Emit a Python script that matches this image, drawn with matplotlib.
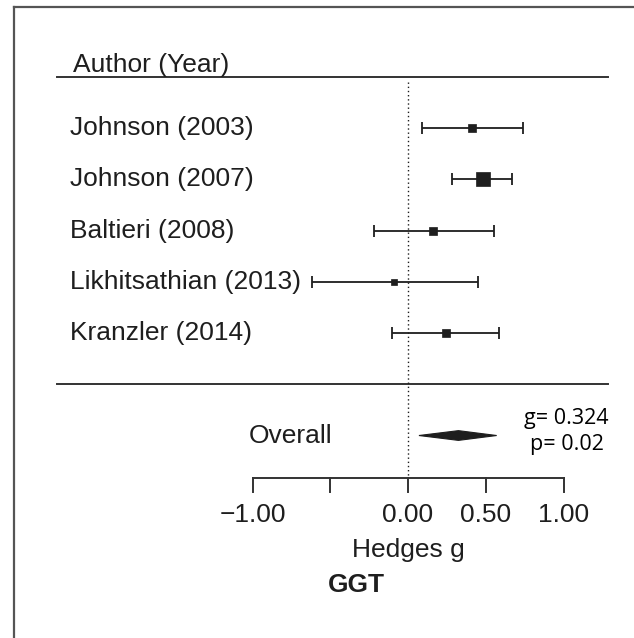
import matplotlib
matplotlib.use("Agg")
import matplotlib.pyplot as plt
import numpy as np
from matplotlib.patches import Polygon
from matplotlib.lines import Line2D

# study data (Hedges g with 95% CI)
studies = ["Johnson (2003)", "Johnson (2007)", "Baltieri (2008)",
           "Likhitsathian (2013)", "Kranzler (2014)"]
g_values = [0.41, 0.48, 0.16, -0.09, 0.245]
ci_low = [0.09, 0.28, -0.22, -0.62, -0.10]
ci_high = [0.74, 0.67, 0.55, 0.45, 0.585]
weights = [18, 44, 18, 6, 14]

overall_g = 0.324
overall_low = 0.07
overall_high = 0.57
overall_p = 0.02

tick_values = [-1.0, -0.5, 0.0, 0.5, 1.0]
tick_labels = ["\u22121.00", "", "0.00", "0.50", "1.00"]

ink = "#1e1e1e"
plt.rcParams['font.family'] = ['Liberation Sans', 'DejaVu Sans']
fs = 19

fig = plt.figure(figsize=(6.34, 6.38), dpi=100)
ax = fig.add_axes([0, 0, 1, 1])
ax.set_xlim(-2.624, 1.453)
ax.set_ylim(9.951, -2.498)
ax.axis("off")

# frame (left and top border of the original image)
fig.add_artist(Line2D([14/634, 14/634], [0, 1 - 7/638], color="#555555", lw=1.6))
fig.add_artist(Line2D([14/634, 1], [1 - 7/638, 1 - 7/638], color="#555555", lw=1.6))

# header
ax.text(-2.154, -1.23, "Author (Year)", fontsize=fs, color=ink, va="center", ha="left")
ax.plot([-2.257, 1.286], [-1.0, -1.0], color="#333333", lw=1.4)
ax.plot([-2.257, 1.286], [5.0, 5.0], color="#333333", lw=1.4)

# null line
ax.plot([0, 0], [-0.9, 6.83], color=ink, lw=1.0, ls=(0, (1, 2)))

rows = np.arange(len(studies))
for r, name, g, lo, hi, w in zip(rows, studies, g_values, ci_low, ci_high, weights):
    ax.text(-2.174, r, name, fontsize=fs, color=ink, va="center", ha="left")
    ax.errorbar(g, r, xerr=[[g - lo], [hi - g]], fmt="none", ecolor=ink,
                elinewidth=1.3, capsize=4.4, capthick=1.3)
    side_px = 2.11 * np.sqrt(w)
    ax.plot(g, r, marker="s", ms=side_px * 0.72, color=ink, mec=ink, mew=0.5)

# overall diamond
y_ov = 6.0
h = 0.095
diamond = Polygon([[overall_low, y_ov], [overall_g, y_ov - h],
                   [overall_high, y_ov], [overall_g, y_ov + h]],
                  closed=True, facecolor=ink, edgecolor=ink, lw=0.8)
ax.add_patch(diamond)
ax.text(-1.023, y_ov, "Overall", fontsize=fs, color=ink, va="center", ha="left")

ax.text(1.02, 5.66, f"g= {overall_g}", fontsize=15.5, family=["Open Sans", "DejaVu Sans"],
        color="black", ha="center", va="center")
ax.text(1.02, 6.17, f"p= {overall_p}", fontsize=15.5, family=["Open Sans", "DejaVu Sans"],
        color="black", ha="center", va="center")

# x axis
y_axis = 6.83
ax.plot([tick_values[0], tick_values[-1]], [y_axis, y_axis], color="#333333", lw=1.4)
for t, lab in zip(tick_values, tick_labels):
    ax.plot([t, t], [y_axis, y_axis + 0.27], color="#333333", lw=1.4)
    ax.text(t, 7.55, lab, fontsize=fs, color=ink, ha="center", va="center")

ax.text(0, 8.23, "Hedges g", fontsize=fs, color=ink, ha="center", va="center")
ax.text(-0.33, 8.92, "GGT", fontsize=fs, color=ink, ha="center", va="center", fontweight="bold")

fig.savefig("out.png", dpi=100, facecolor="white")
